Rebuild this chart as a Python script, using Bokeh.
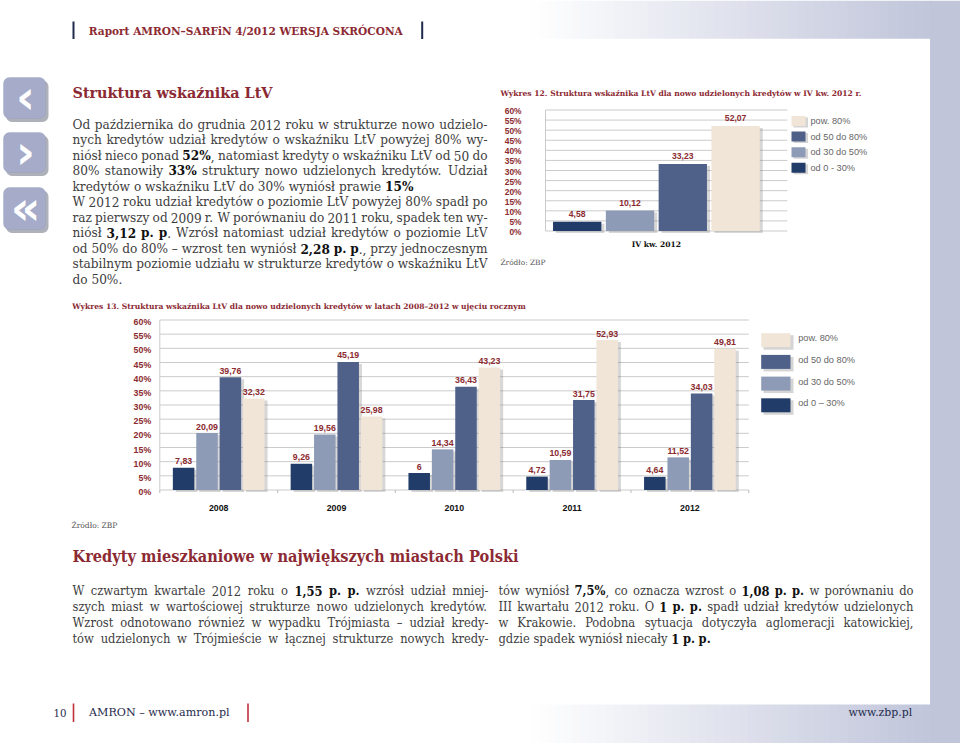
import os
import glob
import struct
import subprocess

from bokeh.plotting import figure
from bokeh.models import Range1d, ColumnDataSource, BoxAnnotation, Label
from bokeh.transform import dodge
from bokeh.core.properties import value
from bokeh.embed import file_html
from bokeh.resources import INLINE

# ---------------------------------------------------------------- data
SERIES_12 = ["od 0 - 30%", "od 30 do 50%", "od 50 do 80%", "pow. 80%"]
SERIES_13 = ["od 0 – 30%", "od 30 do 50%", "od 50 do 80%", "pow. 80%"]
Q4_CATEGORY = "IV kw. 2012"
Q4_VALUES = [4.58, 10.12, 33.23, 52.07]

YEARS = ["2008", "2009", "2010", "2011", "2012"]
LTV_0_30 = [7.83, 9.26, 6.00, 4.72, 4.64]
LTV_30_50 = [20.09, 19.56, 14.34, 10.59, 11.52]
LTV_50_80 = [39.76, 45.19, 36.43, 31.75, 34.03]
LTV_80_PLUS = [32.32, 25.98, 43.23, 52.93, 49.81]

Y_TICKS = [0, 5, 10, 15, 20, 25, 30, 35, 40, 45, 50, 55, 60]
Y_TICK_LABELS = ["0%", "5%", "10%", "15%", "20%", "25%", "30%",
                 "35%", "40%", "45%", "50%", "55%", "60%"]

SERIES_COLORS = ["#213c69", "#8e9bb7", "#4f6089", "#f1e5d8"]

# ---------------------------------------------------------------- texts
HEADER = "Raport AMRON–SARFiN 4/2012 WERSJA SKRÓCONA"
TITLE_1 = "Struktura wskaźnika LtV"
PARA_1 = [
    "Od października do grudnia 2012 roku w strukturze nowo udzielo-",
    "nych kredytów udział kredytów o wskaźniku LtV powyżej 80% wy-",
    "niósł nieco ponad **52%**, natomiast kredyty o wskaźniku LtV od 50 do",
    "80% stanowiły **33%** struktury nowo udzielonych kredytów. Udział",
    "kredytów o wskaźniku LtV do 30% wyniósł prawie **15%**",
    "W 2012 roku udział kredytów o poziomie LtV powyżej 80% spadł po",
    "raz pierwszy od 2009 r. W porównaniu do 2011 roku, spadek ten wy-",
    "niósł **3,12 p. p**. Wzrósł natomiast udział kredytów o poziomie LtV",
    "od 50% do 80% – wzrost ten wyniósł **2,28 p. p**., przy jednoczesnym",
    "stabilnym poziomie udziału w strukturze kredytów o wskaźniku LtV",
    "do 50%.",
]
PARA_1_LAST = [False, False, False, False, True, False, False, False, False, False, True]
CHART12_TITLE = "Wykres 12. Struktura wskaźnika LtV dla nowo udzielonych kredytów w IV kw. 2012 r."
CHART13_TITLE = "Wykres 13. Struktura wskaźnika LtV dla nowo udzielonych kredytów w latach 2008–2012 w ujęciu rocznym"
SOURCE = "Źródło: ZBP"
TITLE_2 = "Kredyty mieszkaniowe w największych miastach Polski"
PARA_2L = [
    "W czwartym kwartale 2012 roku o **1,55 p. p.** wzrósł udział mniej-",
    "szych miast w wartościowej strukturze nowo udzielonych kredytów.",
    "Wzrost odnotowano również w wypadku Trójmiasta – udział kredy-",
    "tów udzielonych w Trójmieście w łącznej strukturze nowych kredy-",
]
PARA_2R = [
    "tów wyniósł **7,5%**, co oznacza wzrost o **1,08 p. p.** w porównaniu do",
    "III kwartału 2012 roku. O **1 p. p.** spadł udział kredytów udzielonych",
    "w Krakowie. Podobna sytuacja dotyczyła aglomeracji katowickiej,",
    "gdzie spadek wyniósł niecały **1 p. p.**",
]
FOOT_PAGE = "10"
FOOT_LEFT = "AMRON – www.amron.pl"
FOOT_RIGHT = "www.zbp.pl"


def fmt(v):
    return ("%g" % v).replace(".", ",")


# ---------------------------------------------------------------- font metrics
def find_font(fname, pattern):
    roots = ["/usr/share/fonts", "/usr/local/share/fonts",
             os.path.expanduser("~/.fonts"), os.path.expanduser("~/.local/share/fonts")]
    for r in roots:
        hits = glob.glob(os.path.join(r, "**", fname), recursive=True)
        if hits:
            return hits[0]
    try:
        out = subprocess.run(["fc-match", "-f", "%{file}", pattern],
                             capture_output=True, text=True, timeout=5).stdout.strip()
        if out and os.path.basename(out) == fname:
            return out
    except Exception:
        pass
    return None


class Metrics:
    def __init__(self, path, fallback_em):
        self.ok = False
        self.fb = fallback_em
        if path:
            try:
                self._load(path)
                self.ok = True
            except Exception:
                self.ok = False

    def _load(self, path):
        d = open(path, "rb").read()
        n = struct.unpack(">H", d[4:6])[0]
        t = {}
        for i in range(n):
            tag, _, off, _ln = struct.unpack(">4sIII", d[12 + 16 * i:28 + 16 * i])
            t[tag] = off
        self.upem = struct.unpack(">H", d[t[b"head"] + 18:t[b"head"] + 20])[0]
        nhm = struct.unpack(">H", d[t[b"hhea"] + 34:t[b"hhea"] + 36])[0]
        hm = t[b"hmtx"]
        self.adv = [struct.unpack(">H", d[hm + 4 * i:hm + 4 * i + 2])[0] for i in range(nhm)]
        cm = t[b"cmap"]
        nsub = struct.unpack(">H", d[cm + 2:cm + 4])[0]
        self.cmap = {}
        for i in range(nsub):
            pid, eid, so = struct.unpack(">HHI", d[cm + 4 + 8 * i:cm + 12 + 8 * i])
            s = cm + so
            if struct.unpack(">H", d[s:s + 2])[0] != 4:
                continue
            segx2 = struct.unpack(">H", d[s + 6:s + 8])[0]
            seg = segx2 // 2
            ends = struct.unpack(">%dH" % seg, d[s + 14:s + 14 + segx2])
            starts = struct.unpack(">%dH" % seg, d[s + 16 + segx2:s + 16 + 2 * segx2])
            deltas = struct.unpack(">%dh" % seg, d[s + 16 + 2 * segx2:s + 16 + 3 * segx2])
            rob = s + 16 + 3 * segx2
            ros = struct.unpack(">%dH" % seg, d[rob:rob + segx2])
            for k in range(seg):
                for c in range(starts[k], ends[k] + 1):
                    if c == 0xFFFF:
                        continue
                    if ros[k] == 0:
                        g = (c + deltas[k]) & 0xFFFF
                    else:
                        a = rob + 2 * k + ros[k] + 2 * (c - starts[k])
                        g = struct.unpack(">H", d[a:a + 2])[0]
                        if g:
                            g = (g + deltas[k]) & 0xFFFF
                    self.cmap.setdefault(c, g)
            break
        if not self.cmap:
            raise ValueError("no cmap")

    def width(self, text, size):
        if not self.ok:
            return len(text) * self.fb * size
        tot = 0
        for ch in text:
            g = self.cmap.get(ord(ch), 0)
            tot += self.adv[min(g, len(self.adv) - 1)]
        return tot * size / self.upem


SERIF = "DejaVu Serif"
SANS = "Liberation Sans"
M_SERIF = Metrics(find_font("DejaVuSerif.ttf", "DejaVu Serif"), 0.56)
M_SERIF_B = Metrics(find_font("DejaVuSerif-Bold.ttf", "DejaVu Serif:bold"), 0.63)
cond_path = find_font("DejaVuSerifCondensed.ttf", "DejaVu Serif Condensed")
if cond_path:
    COND = "DejaVu Serif Condensed"
    M_COND = Metrics(cond_path, 0.50)
    M_COND_B = Metrics(find_font("DejaVuSerifCondensed-Bold.ttf", "DejaVu Serif Condensed:bold"), 0.57)
else:
    COND = SERIF
    M_COND = M_SERIF
    M_COND_B = M_SERIF_B

RED = "#8c2a33"
TXT = "#3d3d3d"
NAVY = "#1f2b4d"
BAND = (192, 197, 218)
VAL_RED = "#8b2b30"

# ---------------------------------------------------------------- figure (1 px = 1 page px)
FX0, FX1, FY0, FY1 = 0, 960, 0, 743
p = figure(width=FX1 - FX0, height=FY1 - FY0,
           x_range=Range1d(FX0, FX1), y_range=Range1d(FY1, FY0),
           x_axis_type=None, y_axis_type=None,
           output_backend="svg", toolbar_location=None,
           min_border=0, outline_line_color=None,
           background_fill_color="white", border_fill_color="white")
p.title.visible = False


def span_range(v_a, px_a, v_b, px_b, px_start, px_end):
    k = (px_b - px_a) / (v_b - v_a)
    return Range1d(start=v_a + (px_start - px_a) / k, end=v_a + (px_end - px_a) / k)


C12_PY = (230.5 - 109.5) / 60.0
C12_PX = 52.8
C13_PY = (489.5 - 319.5) / 60.0
C13_PX = 117.8
p.extra_y_ranges = {
    "c12": span_range(0, 230.5, 60, 109.5, FY1, FY0),
    "c13": span_range(0, 489.5, 60, 319.5, FY1, FY0),
}
p.extra_x_ranges = {
    "c12": span_range(0, 576.7, 1, 576.7 + C12_PX, FX0, FX1),
    "c13": span_range(0, 218.2, 1, 218.2 + C13_PX, FX0, FX1),
}


def txt(x, y, text, font, size, color, style="normal", align="left", baseline="middle", **kw):
    p.text(x=[x], y=[y], text=[text], text_font=value(font),
           text_font_size=value("%.2fpx" % size), text_font_style=value(style),
           text_color=color, text_align=align, text_baseline=baseline, **kw)


def fit(metric, text, width):
    return width / metric.width(text, 1.0)


def mix(c1, c2, t):
    return "#%02x%02x%02x" % tuple(int(round(a + (b - a) * t)) for a, b in zip(c1, c2))


# ---------------------------------------------------------------- page background
N = 48
gx = [530 + (930 - 530) * i / N for i in range(N + 1)]
gcols = [mix((255, 255, 255), BAND, (i + 0.5) / N) for i in range(N)]
for top, bot in ((0, 38.3), (704, 743)):
    p.quad(left=gx[:-1], right=[g + 0.6 for g in gx[1:]], top=top, bottom=bot,
           fill_color=gcols, line_color=None)
p.quad(left=[929.5], right=[962], top=[0], bottom=[745], fill_color=mix(BAND, BAND, 0), line_color=None)

# ---------------------------------------------------------------- header & footer
p.segment(x0=[73, 421.7], x1=[73, 421.7], y0=[21, 21], y1=[38.5, 38.5], line_color=NAVY, line_width=2)
txt(88.3, 30, HEADER, SERIF, fit(M_SERIF_B, HEADER, 314), RED, style="bold")

p.segment(x0=[73, 247.5], x1=[73, 247.5], y0=[703, 703], y1=[721.5, 721.5], line_color="#c0303a", line_width=1.6)
txt(53, 712, FOOT_PAGE, SERIF, fit(M_SERIF, FOOT_PAGE, 13), NAVY)
txt(88.5, 712, FOOT_LEFT, SERIF, fit(M_SERIF, FOOT_LEFT, 142), NAVY)
txt(848, 712, FOOT_RIGHT, SERIF, fit(M_SERIF, FOOT_RIGHT, 65), NAVY)

# ---------------------------------------------------------------- side icons
for (t, b), glyph in zip(((77, 118), (132, 172), (187, 229)), ("‹", "›", "«")):
    try:
        sh = BoxAnnotation(left=5.5, right=48, top=t + 3, bottom=b + 3.5, fill_color="#4d5266",
                           fill_alpha=0.45, line_color=None, border_radius=6)
        bx = BoxAnnotation(left=3, right=45, top=t, bottom=b, fill_color="#a5abc8",
                           fill_alpha=1.0, line_color="#9097b6", border_radius=6)
    except Exception:
        sh = BoxAnnotation(left=5.5, right=48, top=t + 3, bottom=b + 3.5, fill_color="#4d5266",
                           fill_alpha=0.45, line_color=None)
        bx = BoxAnnotation(left=3, right=45, top=t, bottom=b, fill_color="#a5abc8",
                           fill_alpha=1.0, line_color="#9097b6")
    p.add_layout(sh)
    p.add_layout(bx)
    p.add_layout(Label(x=25, y=(t + b) / 2 - 1, text=glyph, text_align="center", text_baseline="middle",
                       text_font="DejaVu Sans", text_font_size="46px", text_font_style="bold",
                       text_color="white"))


# ---------------------------------------------------------------- paragraphs
def parse_runs(s):
    parts = s.split("**")
    return [(t, i % 2 == 1) for i, t in enumerate(parts) if t]


def words_of(line):
    words = [[]]
    for tx, b in parse_runs(line):
        pieces = tx.split(" ")
        for j, piece in enumerate(pieces):
            if j > 0:
                words.append([])
            if piece:
                words[-1].append((piece, b))
    return [w for w in words if w]


def para_size(blocks, reg, bold, cap):
    best = cap
    for lines, lasts, width in blocks:
        for line, last in zip(lines, lasts):
            if last:
                continue
            ws = words_of(line)
            w1 = sum((bold if b else reg).width(t, 1.0) for w in ws for t, b in w)
            sp = reg.width(" ", 1.0)
            best = min(best, width / (w1 + 0.8 * sp * (len(ws) - 1)))
    return best


def draw_para(lines, lasts, x_left, x_right, y_first, dy, size, reg, bold, font):
    R = dict(x=[], y=[], t=[])
    B = dict(x=[], y=[], t=[])
    for li, (line, last) in enumerate(zip(lines, lasts)):
        y = y_first + li * dy
        ws = words_of(line)
        widths = [sum((bold if b else reg).width(t, size) for t, b in w) for w in ws]
        sp = reg.width(" ", size)
        if last or len(ws) < 2:
            gap = sp
        else:
            gap = (x_right - x_left - sum(widths)) / (len(ws) - 1)
        x = x_left
        for w, ww in zip(ws, widths):
            cx = x
            for t, b in w:
                d = B if b else R
                d["x"].append(cx)
                d["y"].append(y)
                d["t"].append(t)
                cx += (bold if b else reg).width(t, size)
            x += ww + gap
    for d, col, style in ((R, TXT, "normal"), (B, "#111111", "bold")):
        if d["x"]:
            p.text(x=d["x"], y=d["y"], text=d["t"], text_font=value(font),
                   text_font_size=value("%.2fpx" % size), text_font_style=value(style),
                   text_color=col, text_align="left", text_baseline="middle")


txt(72, 92, TITLE_1, SERIF, fit(M_SERIF_B, TITLE_1, 200), RED, style="bold")
s1 = para_size([(PARA_1, PARA_1_LAST, 415)], M_SERIF, M_SERIF_B, 12.2)
draw_para(PARA_1, PARA_1_LAST, 72, 487, 124, 15.5, s1, M_SERIF, M_SERIF_B, SERIF)

txt(72, 556, TITLE_2, COND, fit(M_COND_B, TITLE_2, 447), RED, style="bold")
lastL = [False] * 4
lastR = [False, False, False, True]
s2 = para_size([(PARA_2L, lastL, 416), (PARA_2R, lastR, 415)], M_COND, M_COND_B, 12.8)
draw_para(PARA_2L, lastL, 72, 488, 590, 16, s2, M_COND, M_COND_B, COND)
draw_para(PARA_2R, lastR, 498, 913, 590, 16, s2, M_COND, M_COND_B, COND)

# ---------------------------------------------------------------- chart 12
txt(500, 93.3, CHART12_TITLE, SERIF, fit(M_SERIF_B, CHART12_TITLE, 363), RED, style="bold")
txt(500, 261.5, SOURCE, SERIF, fit(M_SERIF, SOURCE, 45), "#555555")

R12 = dict(x_range_name="c12", y_range_name="c12")
p.segment(x0=-0.6, x1=3.98, y0=Y_TICKS, y1=Y_TICKS, line_color="#cbcbcb", line_width=1, **R12)
p.segment(x0=[-0.6], x1=[-0.6], y0=[0], y1=[60], line_color="#cbcbcb", line_width=1, **R12)
p.text(x=521, y=Y_TICKS, text=Y_TICK_LABELS, y_range_name="c12", text_align="right",
       text_baseline="middle", y_offset=1, text_font=value(SANS), text_font_style=value("bold"),
       text_font_size=value("8.4px"), text_color=VAL_RED)

src12 = ColumnDataSource(dict(i=list(range(len(Q4_VALUES))), v=Q4_VALUES,
                              lab=[fmt(v) for v in Q4_VALUES], color=SERIES_COLORS))
p.vbar(x=dodge("i", 3.0 / C12_PX), width=0.915, top=dodge("v", -2.0 / C12_PY),
       bottom=-2.0 / C12_PY, fill_color="#6f6f6f", fill_alpha=0.28, line_color=None,
       source=src12, **R12)
p.vbar(x="i", width=0.915, top="v", bottom=0, fill_color="color", line_color=None,
       source=src12, **R12)
p.text(x="i", y="v", text="lab", source=src12, text_align="center", text_baseline="middle",
       y_offset=-8, text_font=value(SANS), text_font_style=value("bold"),
       text_font_size=value("8.6px"), text_color=VAL_RED, **R12)
p.text(x=[1.5], y=[0], text=[Q4_CATEGORY], text_align="center", text_baseline="middle",
       y_offset=13.5, text_font=value(SERIF), text_font_style=value("bold"),
       text_font_size=value("%.2fpx" % fit(M_SERIF_B, Q4_CATEGORY, 50)), text_color="#111111", **R12)

leg12_y = [120.5 + 15.6 * k for k in range(4)]
leg12_labels = SERIES_12[::-1]
leg12_cols = SERIES_COLORS[::-1]
p.quad(left=793, right=807.5, top=[y - 3.5 for y in leg12_y], bottom=[y + 6.5 for y in leg12_y],
       fill_color="#6f6f6f", fill_alpha=0.3, line_color=None)
p.quad(left=791, right=805, top=[y - 5 for y in leg12_y], bottom=[y + 5 for y in leg12_y],
       fill_color=leg12_cols, line_color=None)
p.text(x=810, y=leg12_y, text=leg12_labels, text_align="left", text_baseline="middle",
       text_font=value(SANS), text_font_size=value("9.2px"), text_color="#666666")

# ---------------------------------------------------------------- chart 13
txt(71.7, 306, CHART13_TITLE, SERIF, fit(M_SERIF_B, CHART13_TITLE, 454), RED, style="bold")
txt(71, 525, SOURCE, SERIF, fit(M_SERIF, SOURCE, 46), "#555555")

R13 = dict(x_range_name="c13", y_range_name="c13")
n_years = len(YEARS)
p.segment(x0=-0.5, x1=n_years - 0.5, y0=Y_TICKS, y1=Y_TICKS, line_color="#cbcbcb", line_width=1, **R13)
p.segment(x0=[-0.5], x1=[-0.5], y0=[0], y1=[60], line_color="#cbcbcb", line_width=1, **R13)
bounds = [k - 0.5 for k in range(n_years + 1)]
p.segment(x0=bounds, x1=bounds, y0=0, y1=-3.0 / C13_PY, line_color="#bbbbbb", line_width=1, **R13)
p.text(x=150.7, y=Y_TICKS, text=Y_TICK_LABELS, y_range_name="c13", text_align="right",
       text_baseline="middle", y_offset=2, text_font=value(SANS), text_font_style=value("bold"),
       text_font_size=value("8.8px"), text_color=VAL_RED)

PITCH = 0.1986
BW = 0.1825
for s, vals in enumerate((LTV_0_30, LTV_30_50, LTV_50_80, LTV_80_PLUS)):
    off = (s - 1.5) * PITCH
    src = ColumnDataSource(dict(i=list(range(n_years)), v=vals, lab=[fmt(v) for v in vals]))
    p.vbar(x=dodge("i", off + 3.0 / C13_PX), width=BW, top=dodge("v", -2.0 / C13_PY),
           bottom=-2.0 / C13_PY, fill_color="#6f6f6f", fill_alpha=0.28, line_color=None,
           source=src, **R13)
    p.vbar(x=dodge("i", off), width=BW, top="v", bottom=0, fill_color=SERIES_COLORS[s],
           line_color=None, source=src, **R13)
    p.text(x=dodge("i", off), y="v", text="lab", source=src, text_align="center",
           text_baseline="middle", y_offset=-6.5, text_font=value(SANS),
           text_font_style=value("bold"), text_font_size=value("8.8px"), text_color=VAL_RED, **R13)

p.text(x=list(range(n_years)), y=0, text=YEARS, text_align="center", text_baseline="middle",
       y_offset=18, text_font=value(SANS), text_font_style=value("bold"),
       text_font_size=value("8.8px"), text_color="#111111", **R13)

leg13_y = [339.7 + 21.7 * k for k in range(4)]
leg13_labels = SERIES_13[::-1]
p.quad(left=763, right=793, top=[y - 5 for y in leg13_y], bottom=[y + 9.5 for y in leg13_y],
       fill_color="#6f6f6f", fill_alpha=0.3, line_color=None)
p.quad(left=760.7, right=790, top=[y - 7 for y in leg13_y], bottom=[y + 7 for y in leg13_y],
       fill_color=leg12_cols, line_color=None)
p.text(x=797.7, y=[y - 2 for y in leg13_y], text=leg13_labels, text_align="left",
       text_baseline="middle", text_font=value(SANS), text_font_size=value("9.2px"),
       text_color="#666666")

open("out.html", "w").write(file_html(p, INLINE))
